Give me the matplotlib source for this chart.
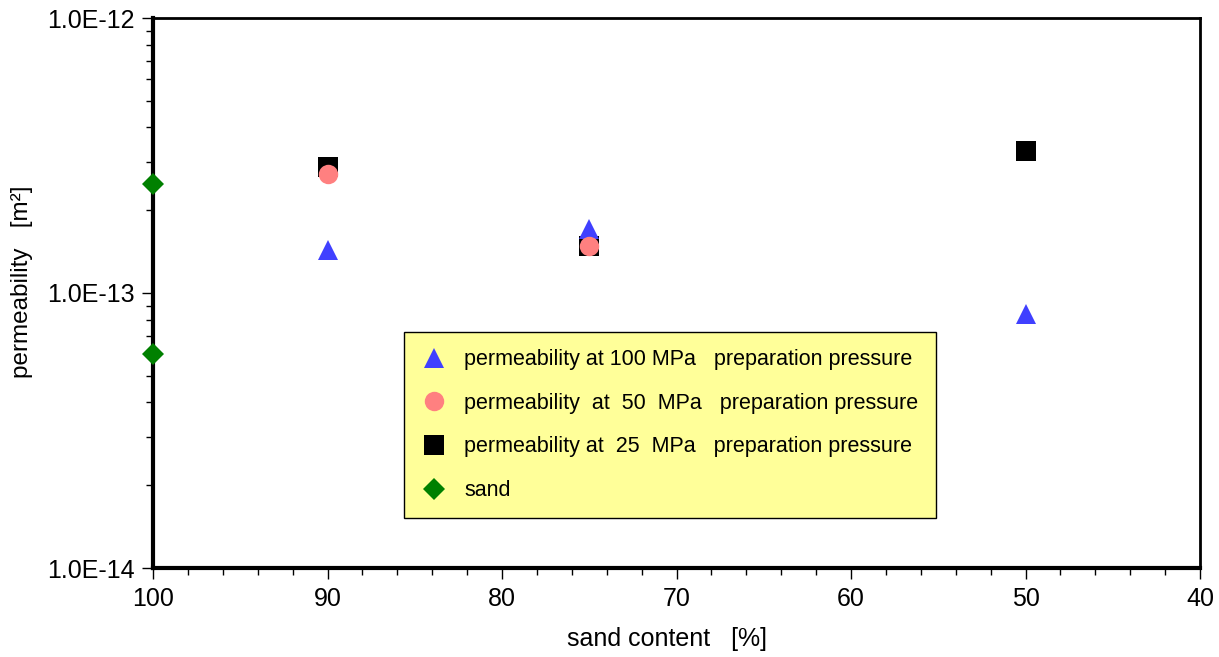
import math
import matplotlib
matplotlib.use("Agg")
import matplotlib.pyplot as plt
from matplotlib.ticker import FixedLocator, FuncFormatter, LogLocator, NullFormatter, MultipleLocator

plt.rcParams['font.family'] = ['Liberation Sans', 'DejaVu Sans']

sand_x = [100, 100]
sand_y = [2.49e-13, 6.0e-14]
p100_x = [90, 75, 50]
p100_y = [1.43e-13, 1.71e-13, 8.4e-14]
p50_x = [90, 75]
p50_y = [2.71e-13, 1.48e-13]
p25_x = [90, 75, 50]
p25_y = [2.87e-13, 1.48e-13, 3.28e-13]

labels = ["permeability at 100 MPa   preparation pressure",
          "permeability  at  50  MPa   preparation pressure",
          "permeability at  25  MPa   preparation pressure",
          "sand"]

fig = plt.figure(figsize=(12.19, 6.57), dpi=100)
ax = fig.add_axes([153/1219, 1-568/657, 1047/1219, 550/657])

h1, = ax.plot(p100_x, p100_y, linestyle='none', marker='^', color='#4040FF', markersize=14, markeredgewidth=0, clip_on=False, zorder=3)
h3, = ax.plot(p25_x, p25_y, linestyle='none', marker='s', color='black', markersize=14, markeredgewidth=0, clip_on=False, zorder=2)
h2, = ax.plot(p50_x, p50_y, linestyle='none', marker='o', color='#FF8080', markersize=14, markeredgewidth=0, clip_on=False, zorder=4)
h4, = ax.plot(sand_x, sand_y, linestyle='none', marker='D', color='#008000', markersize=11, markeredgewidth=0, clip_on=False, zorder=5)

ax.set_yscale('log')
ax.set_ylim(1e-14, 1e-12)
ax.set_xlim(100, 40)

ax.xaxis.set_major_locator(MultipleLocator(10))
ax.xaxis.set_minor_locator(MultipleLocator(2))
ax.yaxis.set_major_locator(FixedLocator([1e-14, 1e-13, 1e-12]))
ax.yaxis.set_minor_locator(LogLocator(base=10, subs=range(2, 10)))
ax.yaxis.set_minor_formatter(NullFormatter())
ax.yaxis.set_major_formatter(FuncFormatter(lambda v, p: "1.0E%d" % round(math.log10(v))))

ax.tick_params(which='major', direction='out', length=8, width=1, labelsize=18, color='black')
ax.tick_params(which='minor', direction='out', length=5, width=1, color='black')
ax.tick_params(axis='x', pad=6)
ax.tick_params(axis='y', pad=5)
for name, s in ax.spines.items():
    s.set_linewidth(3 if name in ('left', 'bottom') else 2)

ax.set_xlabel("sand content   [%]", fontsize=18)
ax.set_ylabel("permeability   [m²]", fontsize=17.5)
ax.xaxis.set_label_coords(0.4914, -0.107)
ax.yaxis.set_label_coords(-0.1146, 0.52)

leg = ax.legend([h1, h2, h3, h4], labels, loc='upper left',
                bbox_to_anchor=(0.2397, 0.429), borderaxespad=0, fontsize=15.5,
                frameon=True, fancybox=False, edgecolor='black',
                facecolor='#FFFF99', framealpha=1, labelspacing=1.05,
                handletextpad=0.8, borderpad=0.8, handlelength=1.2, markerscale=1.0)
leg.get_frame().set_linewidth(1)

fig.savefig("out.png", dpi=100)
